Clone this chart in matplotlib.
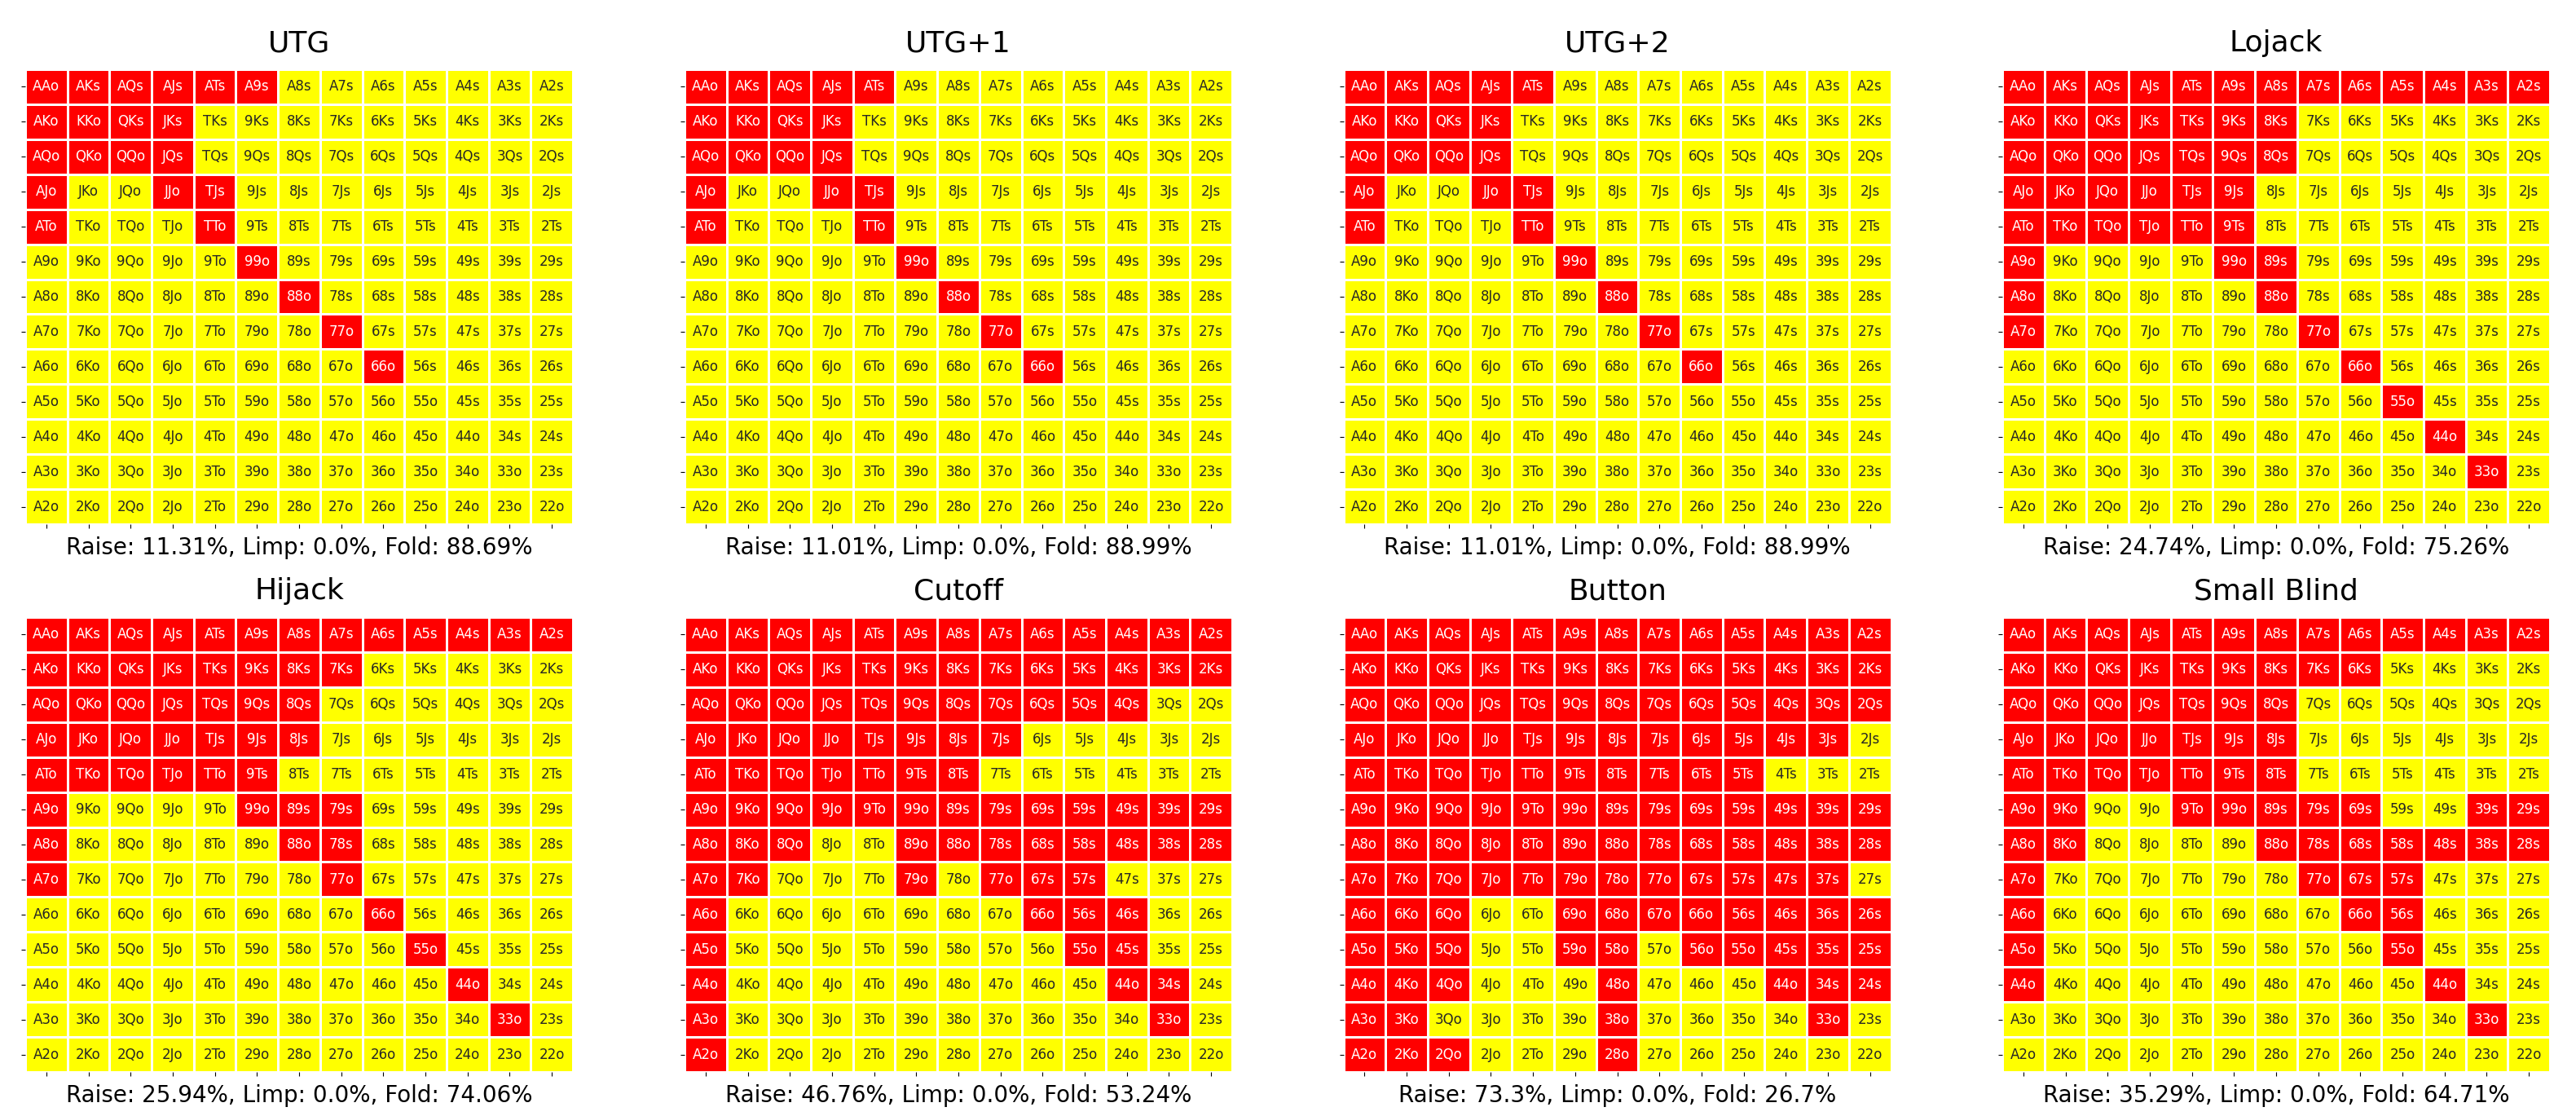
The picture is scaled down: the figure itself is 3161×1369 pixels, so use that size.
import numpy as np
import matplotlib
matplotlib.use("Agg")
import matplotlib.pyplot as plt
from matplotlib.colors import ListedColormap
import seaborn as sns

ranks = ["A", "K", "Q", "J", "T", "9", "8", "7", "6", "5", "4", "3", "2"]
rank_value = {"A": 1, "K": 13, "Q": 12, "J": 11, "T": 10, "9": 9, "8": 8,
              "7": 7, "6": 6, "5": 5, "4": 4, "3": 3, "2": 2}

positions = ["UTG", "UTG+1", "UTG+2", "Lojack", "Hijack", "Cutoff", "Button", "Small Blind"]
raise_pct = [11.31, 11.01, 11.01, 24.74, 25.94, 46.76, 73.3, 35.29]
limp_pct = [0.0, 0.0, 0.0, 0.0, 0.0, 0.0, 0.0, 0.0]
fold_pct = [88.69, 88.99, 88.99, 75.26, 74.06, 53.24, 26.7, 64.71]

# R = raise, F = fold ; rows/cols follow `ranks`
utg = [
    "RRRRRRFFFFFFF",
    "RRRRFFFFFFFFF",
    "RRRRFFFFFFFFF",
    "RFFRRFFFFFFFF",
    "RFFFRFFFFFFFF",
    "FFFFFRFFFFFFF",
    "FFFFFFRFFFFFF",
    "FFFFFFFRFFFFF",
    "FFFFFFFFRFFFF",
    "FFFFFFFFFFFFF",
    "FFFFFFFFFFFFF",
    "FFFFFFFFFFFFF",
    "FFFFFFFFFFFFF",
]
utg1 = [
    "RRRRRFFFFFFFF",
    "RRRRFFFFFFFFF",
    "RRRRFFFFFFFFF",
    "RFFRRFFFFFFFF",
    "RFFFRFFFFFFFF",
    "FFFFFRFFFFFFF",
    "FFFFFFRFFFFFF",
    "FFFFFFFRFFFFF",
    "FFFFFFFFRFFFF",
    "FFFFFFFFFFFFF",
    "FFFFFFFFFFFFF",
    "FFFFFFFFFFFFF",
    "FFFFFFFFFFFFF",
]
utg2 = [
    "RRRRRFFFFFFFF",
    "RRRRFFFFFFFFF",
    "RRRRFFFFFFFFF",
    "RFFRRFFFFFFFF",
    "RFFFRFFFFFFFF",
    "FFFFFRFFFFFFF",
    "FFFFFFRFFFFFF",
    "FFFFFFFRFFFFF",
    "FFFFFFFFRFFFF",
    "FFFFFFFFFFFFF",
    "FFFFFFFFFFFFF",
    "FFFFFFFFFFFFF",
    "FFFFFFFFFFFFF",
]
lojack = [
    "RRRRRRRRRRRRR",
    "RRRRRRRFFFFFF",
    "RRRRRRRFFFFFF",
    "RRRRRRFFFFFFF",
    "RRRRRRFFFFFFF",
    "RFFFFRRFFFFFF",
    "RFFFFFRFFFFFF",
    "RFFFFFFRFFFFF",
    "FFFFFFFFRFFFF",
    "FFFFFFFFFRFFF",
    "FFFFFFFFFFRFF",
    "FFFFFFFFFFFRF",
    "FFFFFFFFFFFFF",
]
hijack = [
    "RRRRRRRRRRRRR",
    "RRRRRRRRFFFFF",
    "RRRRRRRFFFFFF",
    "RRRRRRRFFFFFF",
    "RRRRRRFFFFFFF",
    "RFFFFRRRFFFFF",
    "RFFFFFRRFFFFF",
    "RFFFFFFRFFFFF",
    "FFFFFFFFRFFFF",
    "FFFFFFFFFRFFF",
    "FFFFFFFFFFRFF",
    "FFFFFFFFFFFRF",
    "FFFFFFFFFFFFF",
]
cutoff = [
    "RRRRRRRRRRRRR",
    "RRRRRRRRRRRRR",
    "RRRRRRRRRRRFF",
    "RRRRRRRRFFFFF",
    "RRRRRRRFFFFFF",
    "RRRRRRRRRRRRR",
    "RRRFFRRRRRRRR",
    "RRFFFRFRRRFFF",
    "RFFFFFFFRRRFF",
    "RFFFFFFFFRRFF",
    "RFFFFFFFFFRRF",
    "RFFFFFFFFFFRF",
    "RFFFFFFFFFFFF",
]
button = [
    "RRRRRRRRRRRRR",
    "RRRRRRRRRRRRR",
    "RRRRRRRRRRRRR",
    "RRRRRRRRRRRRF",
    "RRRRRRRRRRFFF",
    "RRRRRRRRRRRRR",
    "RRRRRRRRRRRRR",
    "RRRRRRRRRRRRF",
    "RRRFFRRRRRRRR",
    "RRRFFRRFRRRRR",
    "RRRFFFRFFFRRR",
    "RRFFFFRFFFFRF",
    "RRRFFFRFFFFFF",
]
small_blind = [
    "RRRRRRRRRRRRR",
    "RRRRRRRRRFFFF",
    "RRRRRRRFFFFFF",
    "RRRRRRRFFFFFF",
    "RRRRRRRFFFFFF",
    "RRFFRRRRRFFRR",
    "RRFFFFRRRRRRR",
    "RFFFFFFRRRFFF",
    "RFFFFFFFRRFFF",
    "RFFFFFFFFRFFF",
    "RFFFFFFFFFRFF",
    "FFFFFFFFFFFRF",
    "FFFFFFFFFFFFF",
]
grids = [utg, utg1, utg2, lojack, hijack, cutoff, button, small_blind]

fold_color = "#FFFF00"
raise_color = "#FF0000"


def hand_label(r, c):
    a, b = ranks[r], ranks[c]
    pair = "".join(sorted([a, b], key=lambda x: rank_value[x]))
    return pair + ("s" if c > r else "o")


labels = np.array([[hand_label(r, c) for c in range(13)] for r in range(13)])

W, H = 3161, 1369
fig = plt.figure(figsize=(W / 100, H / 100), dpi=100)
lefts = [31, 840, 1648.5, 2457]
tops = [85, 757]
aw, ah = 672, 558

cmap = ListedColormap([fold_color, raise_color])
for i, (name, grid) in enumerate(zip(positions, grids)):
    row, col = divmod(i, 4)
    x0 = lefts[col]
    y0 = tops[row]
    ax = fig.add_axes([x0 / W, 1 - (y0 + ah) / H, aw / W, ah / H])
    vals = np.array([[1 if ch == "R" else 0 for ch in line] for line in grid])
    sns.heatmap(vals, ax=ax, cmap=cmap, vmin=0, vmax=1, annot=labels, fmt="",
                annot_kws={"size": 12}, linewidths=1, linecolor="white",
                cbar=False, xticklabels=[""] * 13, yticklabels=[""] * 13)
    ax.set_title(name, fontsize=26, pad=15.5)
    ax.set_xlabel(f"Raise: {raise_pct[i]}%, Limp: {limp_pct[i]}%, Fold: {fold_pct[i]}%",
                  fontsize=20)

fig.savefig("out.png", dpi=100)
